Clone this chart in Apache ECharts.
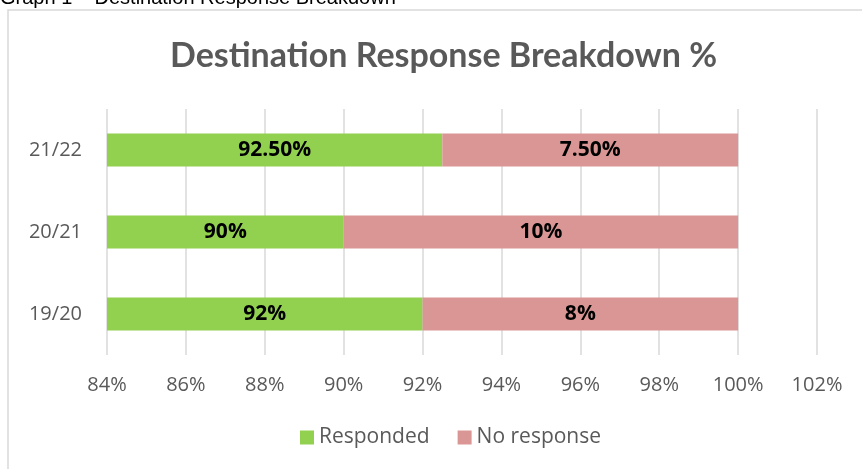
<!DOCTYPE html>
<html>
<head>
<meta charset="utf-8">
<script src="https://cdn.jsdelivr.net/npm/echarts@6/dist/echarts.min.js"></script>
<style>
  html, body { margin: 0; padding: 0; background: #fff; }
  #chart { width: 862px; height: 469px; }
</style>
</head>
<body>
<div id="chart"></div>
<script>
// data, bottom row first (ECharts draws category axis bottom-up)
const years = ['19/20', '20/21', '21/22']
const responded = [92, 90, 92.5]
const noResponse = [8, 10, 7.5]
const xTicks = { min: 84, max: 102, step: 2 }

const pct = (v) => (v % 1 ? v.toFixed(2) : String(v)) + '%'

const labelStyle = {
  show: true,
  position: 'inside',
  color: '#000',
  fontFamily: 'Open Sans',
  fontWeight: 'bold',
  fontSize: 21
}

const option = {
  animation: false,
  graphic: [
    {
      type: 'text',
      left: 0,
      top: -12,
      style: { text: 'Graph 1 \u2013 Destination Response Breakdown', font: '20px "Liberation Sans"', fill: '#000' }
    },
    {
      type: 'rect',
      shape: { x: 8, y: 10, width: 900, height: 500 },
      style: { fill: 'none', stroke: '#d9d9d9', lineWidth: 1.5 }
    }
  ],
  title: {
    text: 'Destination Response Breakdown %',
    left: 165,
    top: 34,
    textStyle: { fontFamily: 'Lato', fontWeight: 'bold', fontSize: 34, color: '#595959' }
  },
  legend: {
    bottom: 16,
    left: 295,
    itemWidth: 14,
    itemHeight: 14,
    itemGap: 28,
    icon: 'rect',
    textStyle: { fontFamily: 'Open Sans', fontSize: 21, color: '#595959' },
    data: ['Responded', 'No response']
  },
  grid: { left: 107, right: 45, top: 109, bottom: 114 },
  xAxis: {
    type: 'value',
    min: xTicks.min,
    max: xTicks.max,
    interval: xTicks.step,
    axisLabel: { formatter: '{value}%', fontFamily: 'Open Sans', fontSize: 20, color: '#595959', margin: 20 },
    splitLine: { lineStyle: { color: '#d9d9d9', width: 1.5 } },
    axisLine: { show: false },
    axisTick: { show: false }
  },
  yAxis: {
    type: 'category',
    data: years,
    axisLabel: { fontFamily: 'Open Sans', fontSize: 20, color: '#595959', margin: 25 },
    axisLine: { show: false },
    axisTick: { show: false }
  },
  series: [
    {
      name: 'Responded',
      type: 'bar',
      stack: 'total',
      barWidth: '40%',
      data: responded,
      itemStyle: { color: '#92d050' },
      label: Object.assign({ formatter: (p) => pct(p.value) }, labelStyle)
    },
    {
      name: 'No response',
      type: 'bar',
      stack: 'total',
      barWidth: '40%',
      data: noResponse,
      itemStyle: { color: '#da9694' },
      label: Object.assign({ formatter: (p) => pct(p.value) }, labelStyle)
    }
  ]
}

const myChart = echarts.init(document.getElementById('chart'))
myChart.setOption(option)
</script>
</body>
</html>
